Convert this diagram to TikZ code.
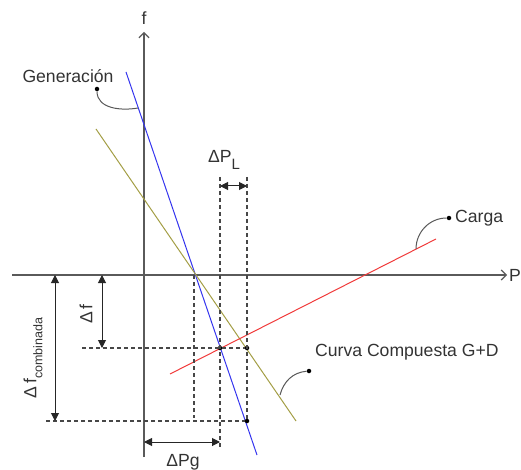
\documentclass[tikz,border=0pt]{standalone}
\usepackage{fontspec}
\setsansfont{Liberation Sans}
\usetikzlibrary{arrows.meta}
\definecolor{genblue}{HTML}{3535EE}
\definecolor{loadred}{HTML}{F03A3A}
\definecolor{compolive}{HTML}{A39E45}
\definecolor{axisgray}{HTML}{5A5A5A}

\begin{document}
\begin{tikzpicture}[
  x=1pt, y=-1pt,
  font=\fontsize{17.6}{20}\selectfont\sffamily,
  axis/.style={draw=axisgray, line width=1.2pt,
               -{Straight Barb[length=5pt,width=10pt]}},
  chart/.style={line width=1pt},
  guide/.style={draw=black!72, line width=1.1pt, dash pattern=on 4pt off 3pt},
  dimarrow/.style={{Triangle[length=8pt,width=8pt]}-{Triangle[length=8pt,width=8pt]},
                   line width=1pt, black!85},
  callout/.style={draw=black!65, line width=1pt},
  dotmark/.style={circle, fill=black, inner sep=0pt, minimum size=4.5pt},
  lab/.style={text=black!80, inner sep=0pt},
]
\useasboundingbox (0,0) rectangle (521,470);

% ── axes ────────────────────────────────────────────────────────────────
\coordinate (fBot)   at (144,457);
\coordinate (fTop)   at (144,32);
\coordinate (PLeft)  at (12,275);
\coordinate (PRight) at (507,275);
\draw[axis] (fBot) -- (fTop);
\draw[axis] (PLeft) -- (PRight);
\node[lab] (fLab) at (144,18) {f};
\node[lab, anchor=west] (PLab) at (509,275) {P};

% ── characteristics: generation, load, composite ────────────────────────
\coordinate (genA)  at (126,72);
\coordinate (genB)  at (257,455);
\coordinate (compA) at (96,129);
\coordinate (compB) at (296,421);
\coordinate (loadA) at (170,374);
\coordinate (loadB) at (436,239);
\draw[chart, genblue]   (genA) -- (genB);
\draw[chart, compolive] (compA) -- (compB);
\draw[chart, loadred]   (loadA) -- (loadB);

% ── operating points and guides ─────────────────────────────────────────
\coordinate (cross) at (194,275);
\coordinate (crossLow) at (194,418);
\node[dotmark] (opNew)  at (220,348) {};
\node[dotmark] (opComp) at (247,348) {};
\node[dotmark] (opGen)  at (247,421) {};
\coordinate (plTopL) at (220,177);
\coordinate (plTopR) at (247,177);
\coordinate (pgLow)  at (220,448);
\coordinate (dfLeft)  at (82,348);
\coordinate (dfcLeft) at (46,421);

\draw[guide] (cross) -- (crossLow);
\draw[guide] (plTopL) -- (pgLow);
\draw[guide] (plTopR) -- (opGen);
\draw[guide] (dfLeft) -- (opComp);
\draw[guide] (dfcLeft) -- (opGen);

% ── dimension arrows ────────────────────────────────────────────────────
\coordinate (dfTop)  at (102,275);
\coordinate (dfBot)  at (102,348);
\coordinate (dfcTop) at (55,275);
\coordinate (dfcBot) at (55,421);
\coordinate (pgL)    at (144,442);
\coordinate (pgR)    at (220,442);
\coordinate (plL)    at (220,186);
\coordinate (plR)    at (247,186);
\draw[dimarrow] (dfTop) -- (dfBot);
\draw[dimarrow] (dfcTop) -- (dfcBot);
\draw[dimarrow] (pgL) -- (pgR);
\draw[dimarrow] (plL) -- (plR);

\node[lab] (plLab) at (224,160) {ΔP\raisebox{-7pt}{\fontsize{15}{15}\selectfont L}};
\node[lab, rotate=90] (dfLab) at (86,314) {Δ\,f};
\node[lab, rotate=90] (dfcLab) at (33,358)
  {Δ\,f\raisebox{-6pt}{\fontsize{12.5}{13}\selectfont combinada}};
\node[lab] (pgLab) at (183,462) {ΔPg};

% ── callouts ────────────────────────────────────────────────────────────
\node[lab] (genLab) at (68,76) {Generación};
\node[dotmark] (genDot) at (97,89) {};
\coordinate (genHit) at (138,108);
\draw[callout] (genDot) to[out=-90, in=190] (genHit);

\node[lab, anchor=west] (loadLab) at (455,218) {Carga};
\node[dotmark] (loadDot) at (449,218) {};
\coordinate (loadHit) at (416,249);
\draw[callout] (loadDot) to[out=180, in=90] (loadHit);

\node[lab, anchor=west] (compLab) at (315,352) {Curva Compuesta G+D};
\node[dotmark] (compDot) at (309,371) {};
\coordinate (compHit) at (280,395);
\draw[callout] (compDot) to[out=185, in=75] (compHit);
\end{tikzpicture}
\end{document}
